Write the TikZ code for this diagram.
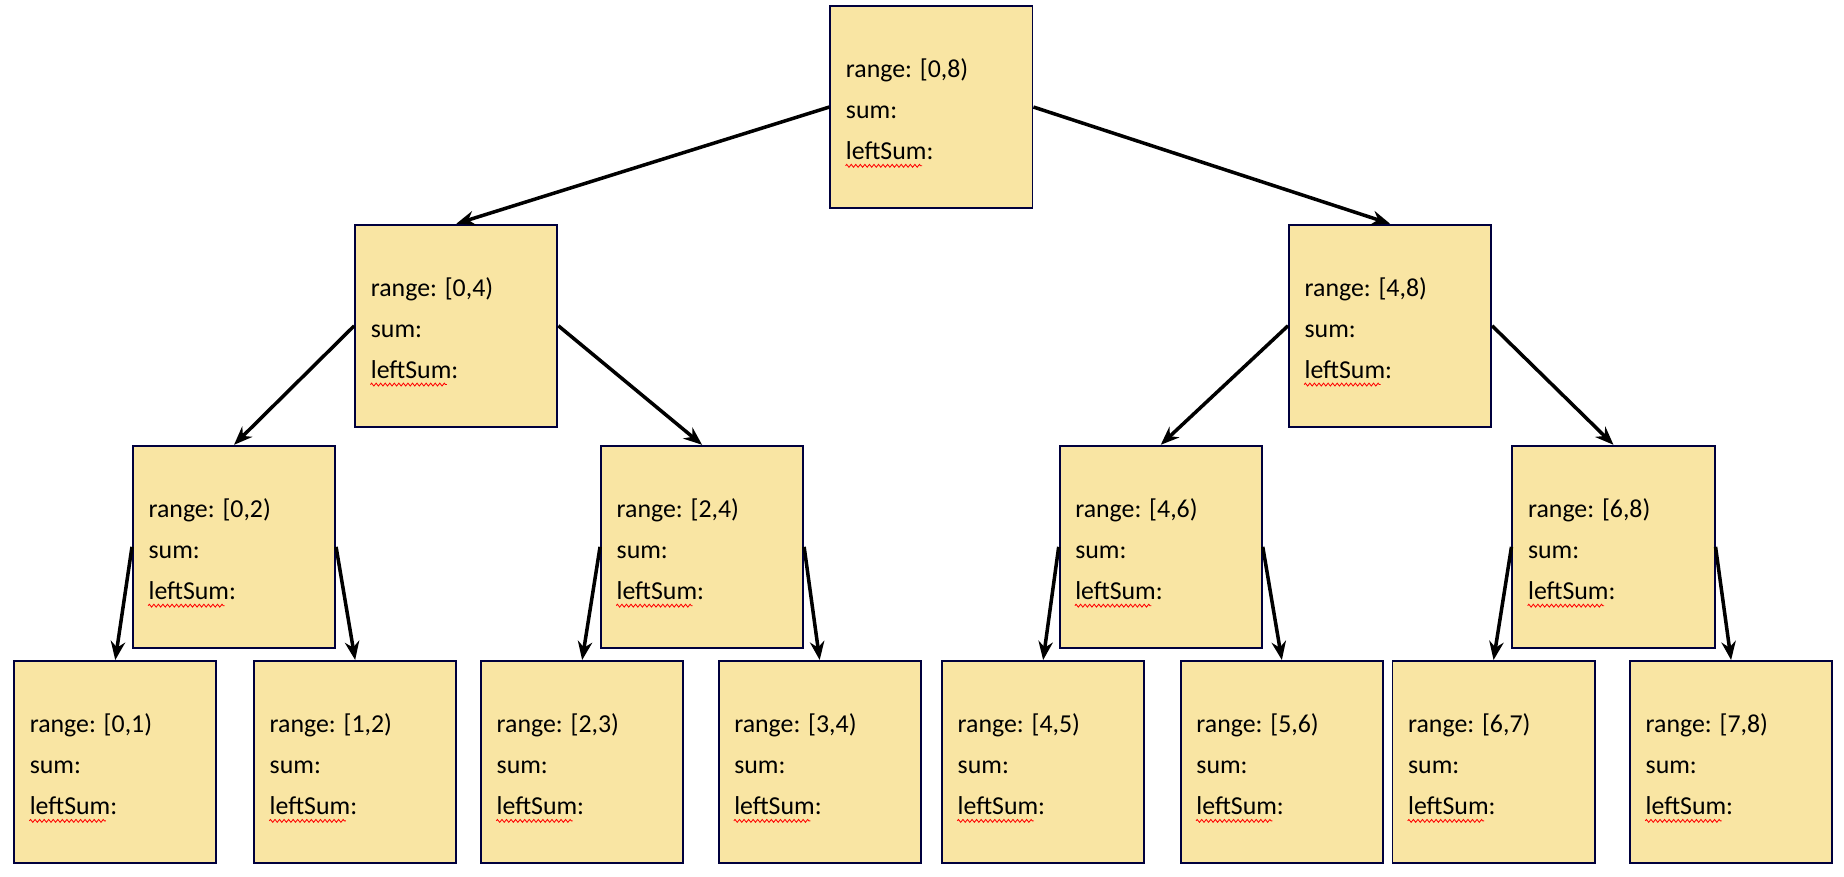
\documentclass[tikz,border=0pt]{standalone}
\usepackage{fontspec}
\setmainfont{Carlito}
\usetikzlibrary{arrows.meta,decorations.pathmorphing}
\begin{document}
\begin{tikzpicture}[x=0.02cm,y=-0.02cm,
  box/.style={draw=black!70!blue!80!black,fill={rgb,255:red,249;green,229;blue,163},line width=0.9pt,minimum width=3.44cm,minimum height=3.44cm,inner sep=0pt},
  lbl/.style={anchor=west,align=left,font=\fontsize{12.5}{19.8}\selectfont,inner sep=0pt},
  arr/.style={line width=1.7pt,-{Stealth[length=9pt,width=7pt]}},
  sq/.style={red,line width=0.4pt,decorate,decoration={zigzag,amplitude=0.7pt,segment length=2.2pt}}]
\useasboundingbox (0,0) rectangle (1568,745);
\newcommand{\tbox}[4]{%
  \node[box] (#1) at (#2,#3) {};
  \node[lbl] (#1t) at (#2-73,#3+2) {range: #4\\sum:\\leftSum:};
  \draw[sq] (#2-73,#3+50) -- (#2-8,#3+50);}
\tbox{r}{792}{91}{[0,8)}
\tbox{a}{388}{277}{[0,4)}
\tbox{b}{1182}{277}{[4,8)}
\tbox{aa}{199}{465}{[0,2)}
\tbox{ab}{597}{465}{[2,4)}
\tbox{ba}{987}{465}{[4,6)}
\tbox{bb}{1372}{465}{[6,8)}
\tbox{l1}{98}{648}{[0,1)}
\tbox{l2}{302}{648}{[1,2)}
\tbox{l3}{495}{648}{[2,3)}
\tbox{l4}{697}{648}{[3,4)}
\tbox{l5}{887}{648}{[4,5)}
\tbox{l6}{1090}{648}{[5,6)}
\tbox{l7}{1270}{648}{[6,7)}
\tbox{l8}{1472}{648}{[7,8)}
\draw[arr] (r.west) -- (a.north);
\draw[arr] (r.east) -- (b.north);
\foreach \p/\c in {a/aa,b/ba}{\draw[arr] (\p.west) -- (\c.north);}
\foreach \p/\c in {a/ab,b/bb}{\draw[arr] (\p.east) -- (\c.north);}
\foreach \p/\c in {aa/l1,ab/l3,ba/l5,bb/l7}{\draw[arr] (\p.west) -- (\c.north);}
\foreach \p/\c in {aa/l2,ab/l4,ba/l6,bb/l8}{\draw[arr] (\p.east) -- (\c.north);}
\end{tikzpicture}
\end{document}
